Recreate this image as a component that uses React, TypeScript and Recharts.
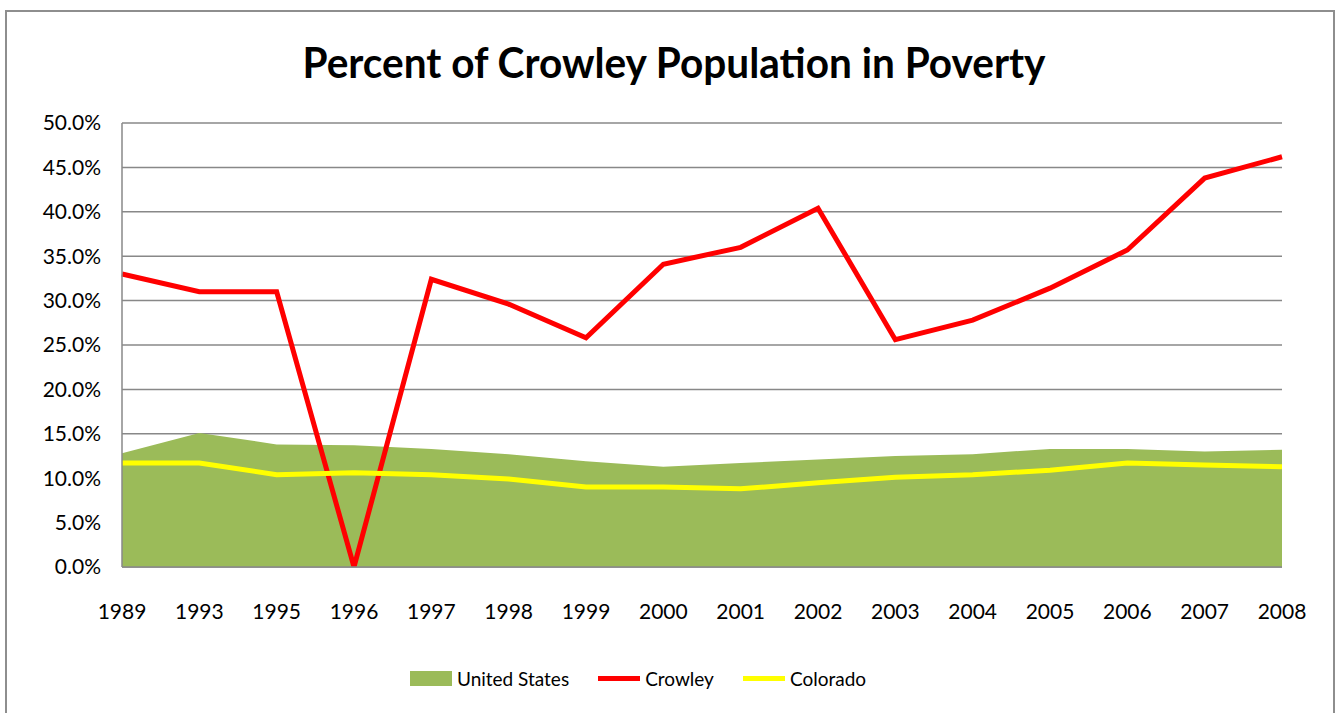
import React from "react"
import {
  ComposedChart,
  Area,
  Line,
  XAxis,
  YAxis,
  CartesianGrid,
  Legend,
} from "recharts"

const years = [
  "1989", "1993", "1995", "1996", "1997", "1998", "1999", "2000",
  "2001", "2002", "2003", "2004", "2005", "2006", "2007", "2008",
]
const unitedStates = [12.8, 15.1, 13.8, 13.7, 13.3, 12.7, 11.9, 11.3, 11.7, 12.1, 12.5, 12.7, 13.3, 13.3, 13.0, 13.2]
const crowley = [33.0, 31.0, 31.0, 0.0, 32.4, 29.6, 25.8, 34.1, 36.0, 40.4, 25.6, 27.8, 31.4, 35.7, 43.8, 46.2]
const colorado = [11.7, 11.7, 10.4, 10.6, 10.4, 9.9, 9.0, 9.0, 8.8, 9.5, 10.1, 10.4, 10.9, 11.7, 11.5, 11.3]
const yTicks = [0, 5, 10, 15, 20, 25, 30, 35, 40, 45, 50]

const data = years.map((year, i) => ({
  year,
  us: unitedStates[i],
  crowley: crowley[i],
  colorado: colorado[i],
}))

const FONT = "Lato, 'Liberation Sans', sans-serif"
const GREEN = "#9bbb59"
const RED = "#ff0000"
const YELLOW = "#ffff00"
const GRID = "#888888"

function LegendBox() {
  const items = [
    { label: "United States", kind: "rect", color: GREEN },
    { label: "Crowley", kind: "line", color: RED },
    { label: "Colorado", kind: "line", color: YELLOW },
  ]
  return (
    <div style={{ display: "flex", justifyContent: "center", alignItems: "center", gap: 29, height: 26, fontFamily: FONT, fontSize: 19, color: "#000" }}>
      {items.map((it) => (
        <div key={it.label} style={{ display: "flex", alignItems: "center" }}>
          <div
            style={{
              width: 42,
              height: it.kind === "rect" ? 15 : 5,
              background: it.color,
              marginRight: 5,
            }}
          />
          <span>{it.label}</span>
        </div>
      ))}
    </div>
  )
}

export default function App() {
  return (
    <div>
      <div
        style={{
          position: "absolute",
          left: 5,
          top: 10,
          width: 1330,
          height: 720,
          border: "2px solid #8e8e8e",
          boxSizing: "border-box",
          background: "#fff",
        }}
      />
      <div style={{ position: "absolute", left: 0, top: 0 }}>
        <ComposedChart
          width={1340}
          height={713}
          data={data}
          margin={{ top: 123, right: 58, left: 0, bottom: 22 }}
        >
          <CartesianGrid vertical={false} stroke={GRID} strokeWidth={1.5} />
          <XAxis
            dataKey="year"
            scale="point"
            padding={{ left: 0, right: 0 }}
            height={98}
            tickLine={false}
            tickSize={0}
            tickMargin={37}
            axisLine={{ stroke: GRID, strokeWidth: 1.5 }}
            tick={{ fill: "#000", fontSize: 21, fontFamily: FONT }}
            interval={0}
          />
          <YAxis
            width={122}
            domain={[0, 50]}
            ticks={yTicks}
            allowDataOverflow
            tickFormatter={(v: number) => `${v.toFixed(1)}%`}
            tickLine={false}
            tickSize={0}
            tickMargin={21}
            axisLine={{ stroke: GRID, strokeWidth: 1.5 }}
            tick={{ fill: "#000", fontSize: 21, fontFamily: FONT }}
          />
          <Legend
            verticalAlign="bottom"
            align="center"
            wrapperStyle={{ left: 0, width: 1276 }}
            content={() => <LegendBox />}
          />
          <Area
            type="linear"
            dataKey="us"
            name="United States"
            fill={GREEN}
            fillOpacity={1}
            stroke="none"
            isAnimationActive={false}
          />
          <Line
            type="linear"
            dataKey="crowley"
            name="Crowley"
            stroke={RED}
            strokeWidth={5}
            dot={false}
            isAnimationActive={false}
          />
          <Line
            type="linear"
            dataKey="colorado"
            name="Colorado"
            stroke={YELLOW}
            strokeWidth={5}
            dot={false}
            isAnimationActive={false}
          />
        </ComposedChart>
      </div>
      <svg
        width={1340}
        height={100}
        style={{ position: "absolute", left: 0, top: 0, pointerEvents: "none" }}
      >
        <text
          x={674}
          y={78}
          textAnchor="middle"
          fontFamily={FONT}
          fontWeight="bold"
          fontSize={42}
          textLength={743}
          lengthAdjust="spacingAndGlyphs"
          fill="#000"
        >
          Percent of Crowley Population in Poverty
        </text>
      </svg>
    </div>
  )
}
